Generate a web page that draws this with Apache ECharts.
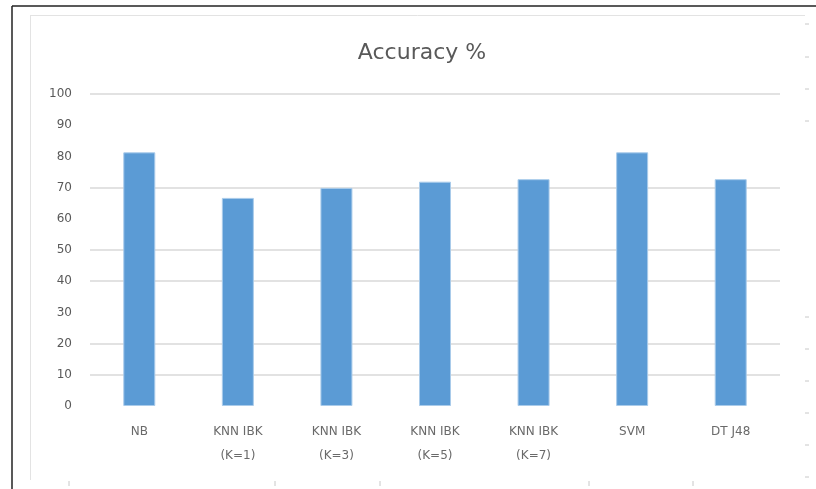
<!DOCTYPE html>
<html>
<head>
<meta charset="utf-8">
<script src="https://cdn.jsdelivr.net/npm/echarts@6/dist/echarts.min.js"></script>
<style>
  html, body { margin: 0; padding: 0; background: #fff; }
  #chart { width: 816px; height: 489px; }
</style>
</head>
<body>
<div id="chart"></div>
<script>
const categories = ['NB', 'KNN IBK\n(K=1)', 'KNN IBK\n(K=3)', 'KNN IBK\n(K=5)', 'KNN IBK\n(K=7)', 'SVM', 'DT J48']
const accuracy = [81.3, 66.7, 69.9, 71.9, 72.7, 81.3, 72.7]
const yTicks = [0, 10, 20, 30, 40, 50, 60, 70, 80, 90, 100]

// only these grid lines survive in the scan
const gridValues = [10, 20, 40, 50, 70, 100]

const chart = echarts.init(document.getElementById('chart'))

// little dash marks along the right and bottom edge of the scan
const edgeMarks = []
;[24, 57, 89, 121, 317, 349, 381, 413, 445, 477].forEach(y => {
  edgeMarks.push({ type: 'line', shape: { x1: 805, y1: y, x2: 809, y2: y }, style: { stroke: '#c8c8c8', lineWidth: 1 } })
})
;[69, 275, 380, 589, 693].forEach(x => {
  edgeMarks.push({ type: 'line', shape: { x1: x, y1: 481, x2: x, y2: 486 }, style: { stroke: '#c8c8c8', lineWidth: 1 } })
})

chart.setOption({
  backgroundColor: '#fff',
  animation: false,
  title: {
    text: 'Accuracy %',
    left: 417,
    textAlign: 'center',
    top: 37,
    textStyle: { fontFamily: 'DejaVu Sans', fontWeight: 'normal', fontSize: 22, color: '#595959' }
  },
  grid: { left: 90, right: 36, top: 94, bottom: 83 },
  xAxis: {
    type: 'category',
    data: categories,
    axisLine: { show: false },
    axisTick: { show: false },
    axisLabel: { color: '#6a6a6a', fontFamily: 'DejaVu Sans', fontSize: 12, lineHeight: 24, margin: 14 }
  },
  yAxis: {
    type: 'value',
    min: 0,
    max: 100,
    interval: 10,
    axisLine: { show: false },
    axisTick: { show: false },
    axisLabel: {
      color: '#595959', fontFamily: 'DejaVu Sans', fontSize: 12, margin: 18,
      formatter: v => yTicks.includes(v) ? String(v) : ''
    },
    splitLine: { show: false }
  },
  series: [
    {
      type: 'line',
      data: [],
      z: 1,
      silent: true,
      markLine: {
        z: 1,
        silent: true,
        symbol: 'none',
        label: { show: false },
        lineStyle: { color: '#d9d9d9', type: 'solid', width: 1.5 },
        data: gridValues.map(v => ({ yAxis: v }))
      }
    },
    {
      type: 'bar',
      data: accuracy,
      barWidth: 32,
      z: 3,
      itemStyle: { color: '#5b9bd5', borderColor: '#a9cbea', borderWidth: 1 }
    }
  ],
  graphic: [
    { type: 'line', shape: { x1: 12, y1: 6, x2: 816, y2: 6 }, style: { stroke: '#222', lineWidth: 1.5 } },
    { type: 'line', shape: { x1: 12, y1: 6, x2: 12, y2: 489 }, style: { stroke: '#222', lineWidth: 1.5 } },
    { type: 'line', shape: { x1: 30, y1: 15.5, x2: 805, y2: 15.5 }, style: { stroke: '#e3e3e3', lineWidth: 1 } },
    { type: 'line', shape: { x1: 30.5, y1: 15, x2: 30.5, y2: 480 }, style: { stroke: '#e3e3e3', lineWidth: 1 } }
  ].concat(edgeMarks)
})
</script>
</body>
</html>
